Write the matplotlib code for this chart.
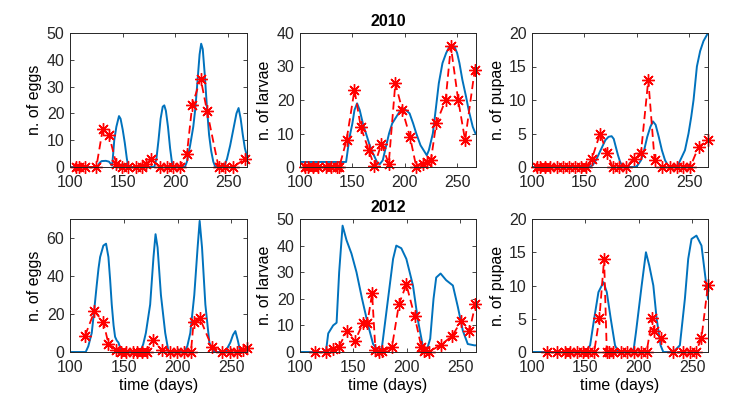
# -*- coding: utf-8 -*-
"""
Eggs, larvae and pupae counts: observations (red stars) vs model (blue line)
for the seasons 2010 and 2012.
"""

import matplotlib
matplotlib.use('Agg')
import matplotlib.pyplot as plt

plt.rcParams['font.family'] = ['Liberation Sans', 'DejaVu Sans']


# ------------ DATA 2010 -----------------

# observed counts (red stars)
obs_day_eggs_2010 = [106, 109, 114, 125, 131, 137, 144, 149, 155, 163, 168,
                     172, 177, 185, 192, 198, 204, 211, 216, 224, 230, 241,
                     247, 255, 266]
obs_eggs_2010 = [0, 0, 0, 0, 14, 12, 1, 0, 0, 0, 0,
                 1, 3, 0, 0, 0, 0, 5, 23, 33, 21, 0,
                 0, 0, 3]

obs_day_larvae_2010 = [105, 108, 112.7, 117.4, 125, 130, 135, 137.5, 144.4,
                       152, 158, 165.6, 171, 177.7, 184.7, 191, 197.7, 205,
                       211, 217, 221, 225, 230, 239, 244, 251, 257.6, 266.8]
obs_larvae_2010 = [0, 0, 0, 0, 0, 0, 0, 0, 8,
                   23, 12, 5, 0.3, 7, 1, 25, 17, 9,
                   0, 1, 1.5, 2, 13, 20, 36, 20, 8, 29]

obs_day_pupae_2010 = [104.8, 108, 112.7, 117.5, 123.8, 129.6, 135, 141.3,
                      146.7, 151.8, 157.2, 165, 171.5, 177, 182.6, 190, 197,
                      204, 211, 217, 224, 232, 238, 244, 251, 259, 268]
obs_pupae_2010 = [0, 0, 0, 0, 0, 0, 0, 0,
                  0, 0, 1.25, 5, 2.1, 0, 0, 0, 1.25,
                  2.1, 13, 1.1, 0, 0, 0, 0, 0, 3, 4]

# model output (blue line)
mod_day_eggs_2010 = [100, 126, 128, 130, 134, 137, 139, 140, 141, 142, 144,
                     146.5, 148, 150, 152, 154, 155.5, 180, 182, 184, 186,
                     188, 189.5, 191, 193, 195, 197, 198, 209, 211, 214, 217,
                     219, 221, 223, 224.5, 226, 228, 230, 232, 234, 236, 238,
                     246, 249, 252, 255, 258, 260, 262, 264, 266, 268]
mod_eggs_2010 = [0, 0, 1.5, 2.2, 2.3, 2, 1, 0.5, 5, 10, 15,
                 19, 18, 14, 9, 3, 0, 0, 3, 10, 18,
                 22.5, 23, 21, 15, 7, 1, 0, 0, 2, 8, 15,
                 22, 32, 42, 46, 44, 34, 22, 12, 6, 2, 0,
                 0, 3, 8, 14, 20, 22, 18, 12, 7, 4]

mod_day_larvae_2010 = [100, 144, 146, 148, 150, 152, 154.5, 157, 160, 163,
                       166, 169, 172, 174, 176, 179, 182, 185, 188, 192, 195,
                       198.3, 201, 204.6, 208, 211, 215, 219, 221, 223, 226.8,
                       229.5, 232.5, 236, 239.5, 242.7, 247.4, 250, 252.2, 255,
                       258.5, 261, 264.9, 267.5]
mod_larvae_2010 = [1.5, 1.5, 6, 10, 13, 17, 19, 17, 13, 10,
                   7, 4.5, 2.5, 1.2, 0.8, 2, 6, 10, 13, 15, 16.5,
                   17.5, 17, 16, 13, 10, 6.5, 4.5, 3.5, 5, 10,
                   17, 25, 31, 34, 36, 36, 34, 31, 26,
                   21, 17, 12, 10]

mod_day_pupae_2010 = [100, 155, 158, 161, 164, 167, 170, 173, 176, 178, 180,
                      182, 184, 186, 188, 199, 201, 204, 207, 210, 213, 215.5,
                      218, 221, 224, 227, 230, 232, 237, 240, 243, 246, 249.4,
                      252, 254.2, 257.4, 260.5, 263.7, 268]
mod_pupae_2010 = [0, 0, 0.3, 1, 2, 3, 4, 4.5, 4.6, 4.2, 3,
                  1.8, 0.8, 0.2, 0, 0, 0.3, 1, 2.5, 4.5, 6, 6.8,
                  6.3, 4.5, 2.5, 1, 0.2, 0, 0, 0.5, 1.5, 2.5, 5,
                  7.5, 10, 15, 17.3, 18.8, 20]


# ------------ DATA 2012 -----------------

obs_day_eggs_2012 = [114, 122.7, 131, 135.7, 142.9, 147.2, 152.2, 159, 162.7,
                     166.8, 171.4, 177, 185.4, 192.5, 199.4, 205.6, 212.4,
                     214.9, 220.5, 232, 241.3, 249, 255.3, 260.9, 264.5]
obs_eggs_2012 = [8.6, 21.4, 15.8, 4.4, 0.9, 0, 0, 0, 0,
                 0, 0, 6.5, 0.9, 0, 0, 0, 0,
                 16, 18, 2.6, 0, 0, 0, 0.9, 2]

obs_day_larvae_2012 = [114, 123.9, 130.4, 136.3, 144.1, 151.2, 159, 163,
                       167.4, 170.5, 173.9, 177, 186, 192.5, 199.4, 207.1,
                       213.4, 215.8, 220.5, 232, 242.2, 250.6, 258.4, 264]
obs_larvae_2012 = [0, 0, 1.2, 2, 8, 4, 11, 11,
                   22, 0.6, 0, 0.2, 2, 18, 25.4, 13.5,
                   1.9, 0.3, 0, 2.8, 6, 11.6, 8, 18]

obs_day_pupae_2012 = [114, 123.3, 131, 135.7, 141.9, 148.1, 152.8, 158.1, 163,
                      167.4, 169.9, 172.4, 176.1, 182.9, 189.1, 195.3, 201.6,
                      207.1, 212.4, 214.3, 220.2, 231.4, 241.3, 247.5, 253.1,
                      258.4, 264.5]
obs_pupae_2012 = [0, 0, 0, 0, 0, 0, 0, 0, 5.1,
                  14, 0, 0, 0, 0, 0, 0, 0,
                  0, 5.1, 3.1, 2.1, 0, 0, 0, 0,
                  2.1, 10.1]

mod_day_eggs_2012 = [100, 114.6, 117, 120.2, 122.5, 124.8, 126.5, 128, 131,
                     133.5, 135.7, 137.3, 138.8, 140.5, 141.9, 143.5, 145,
                     148, 165.2, 168, 170.5, 174.5, 177.6, 179.5, 181.4,
                     184.5, 188.5, 191.6, 206.2, 209, 211.8, 215.5, 218.6,
                     220.5, 222.7, 225.8, 229.5, 233.5, 244.4, 249, 251.5,
                     253.7, 256, 258.3, 262, 264.5]
mod_eggs_2012 = [0, 0, 3, 10, 22, 35, 44, 50, 56,
                 57, 50, 38, 25, 14, 8, 6, 5,
                 0, 0, 4, 10, 25, 50, 62, 55,
                 30, 10, 0, 0, 3, 10, 30, 55,
                 69, 55, 25, 5, 0, 0, 5, 9,
                 11, 6, 0, 0, 1]

mod_day_larvae_2012 = [100, 124.2, 126.4, 131, 134.2, 136.6, 139.8, 143.5,
                       148.1, 152.8, 158, 163.7, 168.3, 173, 176, 177.6,
                       182.3, 187, 190, 194.7, 199.4, 205.6, 210.2, 214.9,
                       218, 221.7, 224.8, 227.3, 231.4, 236.6, 242.9, 247.5,
                       252.2, 256.8, 263, 264.5]
mod_larvae_2012 = [0, 0, 7, 10, 11, 30, 47.5, 42,
                   37, 30, 20, 10, 3, 0.5, 0, 5,
                   20, 35, 40, 39, 35, 25, 12, 2,
                   0, 5, 20, 28, 29.5, 27, 25, 17,
                   8, 3, 2.5, 2.5]

mod_day_pupae_2012 = [100, 149.7, 154.3, 158.1, 162.1, 166.8, 169.9, 173.6,
                      177.6, 180.7, 194.7, 197.2, 202.5, 206.5, 209.6, 213.4,
                      216.5, 220.2, 222.7, 232, 238.2, 242.9, 246, 249.1,
                      253.7, 258.4, 263, 264.5]
mod_pupae_2012 = [0, 0, 1, 5, 9, 10.5, 9, 5,
                  1, 0, 0, 3, 10, 15, 13, 10,
                  5, 1, 0, 0, 1, 8, 14, 17,
                  17.5, 16, 10, 8]


# ------------ FIGURE -----------------------

blue = '#0072BD'
red = '#FF0000'
dark = '#262626'
fs = 11.5

fig = plt.figure(figsize=(7.39, 4.05), dpi=100)

# axes boxes in pixels (left, width) / (top, bottom), measured on reference
cols = [(70, 177), (300, 176), (532, 176)]
rows = [(33, 167), (219, 352)]

panels = [
    # row 0 : 2010
    [(mod_day_eggs_2010, mod_eggs_2010, obs_day_eggs_2010, obs_eggs_2010,
      'n. of eggs', 50, range(0, 51, 10)),
     (mod_day_larvae_2010, mod_larvae_2010, obs_day_larvae_2010,
      obs_larvae_2010, 'n. of larvae', 40, range(0, 41, 10)),
     (mod_day_pupae_2010, mod_pupae_2010, obs_day_pupae_2010, obs_pupae_2010,
      'n. of pupae', 20, range(0, 21, 5))],
    # row 1 : 2012
    [(mod_day_eggs_2012, mod_eggs_2012, obs_day_eggs_2012, obs_eggs_2012,
      'n. of eggs', 70, range(0, 61, 20)),
     (mod_day_larvae_2012, mod_larvae_2012, obs_day_larvae_2012,
      obs_larvae_2012, 'n. of larvae', 50, range(0, 51, 10)),
     (mod_day_pupae_2012, mod_pupae_2012, obs_day_pupae_2012, obs_pupae_2012,
      'n. of pupae', 20, range(0, 21, 5))],
]
xmax = [268, 264.5]
titles = ['2010', '2012']

W, H = 739., 405.
for r, (top, bot) in enumerate(rows):
    for c, (left, width) in enumerate(cols):
        mx, my, ox, oy, ylab, ymax, yticks = panels[r][c]
        ax = fig.add_axes([left / W, (H - bot) / H, width / W,
                           (bot - top) / H])

        ax.plot(mx, my, color=blue, linewidth=1.4)
        ax.plot(ox, oy, color=red, linestyle='--', dashes=(4.5, 2.5),
                linewidth=1.3, marker=(8, 2, 0), markersize=9,
                markeredgewidth=1.0, clip_on=False)

        ax.set_xlim(100, xmax[r])
        ax.set_ylim(0, ymax)
        ax.set_xticks([100, 150, 200, 250])
        ax.set_yticks(list(yticks))
        ax.tick_params(direction='in', top=True, right=True, length=3,
                       width=0.6, colors=dark, labelsize=fs)
        ax.tick_params(axis='x', pad=6)
        ax.tick_params(axis='y', pad=4)
        for sp in ax.spines.values():
            sp.set_color(dark)
            sp.set_linewidth(0.7)

        ax.set_ylabel(ylab, fontsize=fs, color='black', labelpad=3)
        if r == 1:
            ax.set_xlabel('time (days)', fontsize=fs, color='black',
                          labelpad=2)
        if c == 1:
            ax.set_title(titles[r], fontsize=fs, fontweight='bold', pad=5)

fig.savefig('out.png', dpi=100)
